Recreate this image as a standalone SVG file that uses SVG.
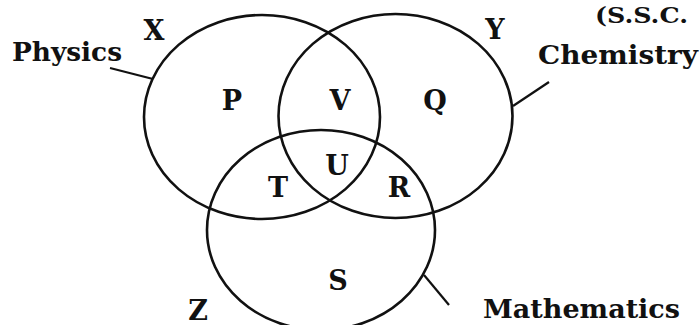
<svg xmlns="http://www.w3.org/2000/svg" width="700" height="325" viewBox="0 0 700 325">
<style>
.c{fill:none;stroke:#111;stroke-width:2.6}
.l{stroke:#111;stroke-width:2.2;fill:none}
text{font-family:"DejaVu Serif","Liberation Serif",serif;font-weight:bold;fill:#111}
.w{font-size:26px}
.s{font-size:27px;text-anchor:middle}
.src{font-size:22px}
</style>
<rect width="700" height="325" fill="#fff"/>
<g id="physics">
<ellipse class="c" cx="262" cy="117" rx="118" ry="102"/>
<text class="s" x="154" y="40">X</text>
<text class="w" x="12" y="61" textLength="110" lengthAdjust="spacingAndGlyphs">Physics</text>
</g>
<g id="chemistry">
<ellipse class="c" cx="395.5" cy="116" rx="117" ry="102"/>
<text class="s" x="495" y="39">Y</text>
<text class="w" x="538" y="64" textLength="160" lengthAdjust="spacingAndGlyphs">Chemistry</text>
</g>
<g id="mathematics">
<ellipse class="c" cx="321" cy="230" rx="114" ry="100"/>
<text class="s" x="198" y="320">Z</text>
<text class="w" x="483" y="318" textLength="197" lengthAdjust="spacingAndGlyphs">Mathematics</text>
</g>
<g id="regions">
<text class="s" x="232" y="110">P</text>
<text class="s" x="340" y="110">V</text>
<text class="s" x="435" y="110">Q</text>
<text class="s" x="337" y="175">U</text>
<text class="s" x="278" y="197">T</text>
<text class="s" x="399" y="197">R</text>
<text class="s" x="338" y="290">S</text>
</g>
<g id="source">
<text class="src" x="595" y="23" textLength="93" lengthAdjust="spacingAndGlyphs">(S.S.C.</text>
</g>
<g id="connectors">
<line class="l" x1="110" y1="68" x2="153" y2="79"/>
<line class="l" x1="513" y1="106" x2="549" y2="82"/>
<line class="l" x1="424" y1="275" x2="449" y2="305"/>
</g>
</svg>
